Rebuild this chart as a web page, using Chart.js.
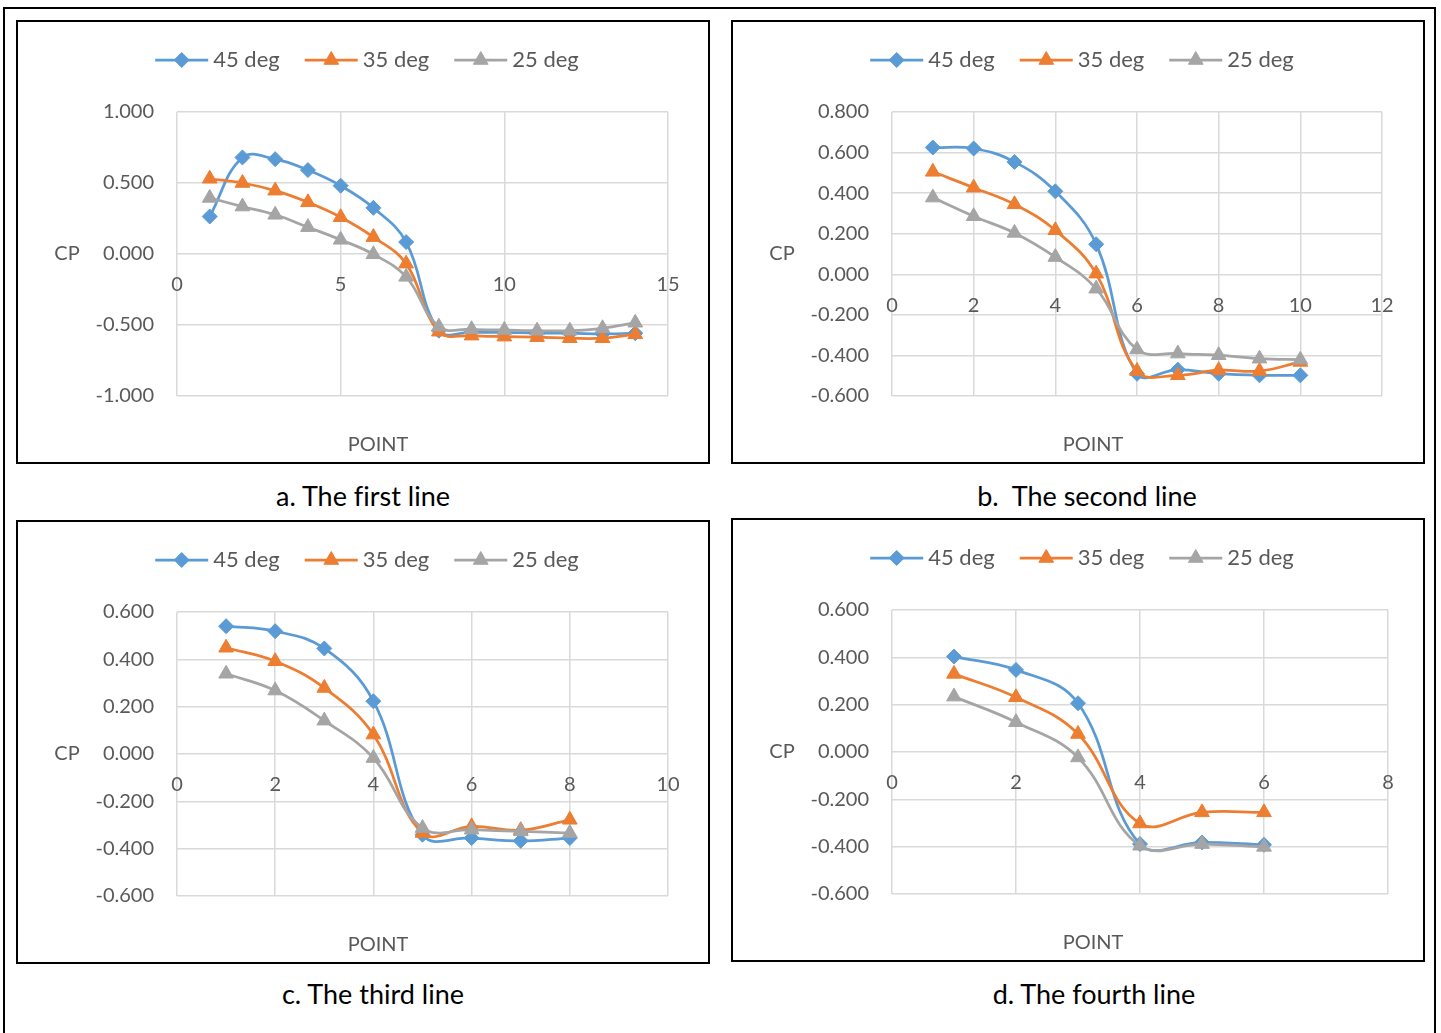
<!DOCTYPE html>
<html lang="en">
<head>
<meta charset="UTF-8">
<title>CP along the lines</title>
<script src="https://cdn.jsdelivr.net/npm/chart.js"></script>
<style>
  body, html {
    margin: 0;
    width: 1441px;
    height: 1033px;
    overflow: hidden;
    background: #fff;
    font-family: Lato, sans-serif;
  }
  .frame {
    position: absolute;
    left: 3px; top: 7px;
    width: 1429px; height: 1100px;
    border: 2.5px solid #000;
  }
  .panel {
    position: absolute;
    width: 690px; height: 440px;
    border: 2px solid #000;
    background: #fff;
  }
  .panel canvas { display: block; }
  .caption {
    position: absolute;
    width: 500px;
    height: 32px;
    line-height: 32px;
    text-align: center;
    font-size: 27px;
    color: #000;
    white-space: pre;
    font-variant-ligatures: none;
  }
</style>
</head>
<body>
  <div class="frame"></div>

  <div class="panel" style="left:16px; top:20px;"><canvas id="lineA" width="690" height="440"></canvas></div>
  <div class="panel" style="left:731px; top:20px;"><canvas id="lineB" width="690" height="440"></canvas></div>
  <div class="panel" style="left:16px; top:520px;"><canvas id="lineC" width="690" height="440"></canvas></div>
  <div class="panel" style="left:731px; top:518px;"><canvas id="lineD" width="690" height="440"></canvas></div>

  <div class="caption" style="left:113px; top:480px;">a. The first line</div>
  <div class="caption" style="left:837px; top:480px;">b.  The second line</div>
  <div class="caption" style="left:123px; top:978px;">c. The third line</div>
  <div class="caption" style="left:844px; top:978px;">d. The fourth line</div>

<script>
  const seriesNames = ['45 deg', '35 deg', '25 deg'];
  const seriesColors = ['#5b9bd5', '#ed7d31', '#a5a5a5'];
  const markerStyles = ['rectRot', 'triangle', 'triangle'];
  const markerSizes = [7.5, 8.5, 8.5];

  // first line
  const pointsA = [1, 2, 3, 4, 5, 6, 7, 8, 9, 10, 11, 12, 13, 14];
  const cpA45 = [0.264, 0.680, 0.668, 0.591, 0.481, 0.325, 0.084, -0.540, -0.550, -0.552, -0.557, -0.558, -0.562, -0.558];
  const cpA35 = [0.530, 0.500, 0.446, 0.364, 0.259, 0.119, -0.068, -0.547, -0.575, -0.582, -0.586, -0.593, -0.593, -0.565];
  const cpA25 = [0.395, 0.334, 0.276, 0.189, 0.100, -0.002, -0.161, -0.512, -0.530, -0.535, -0.540, -0.540, -0.523, -0.484];

  // second line
  const pointsB = [1, 2, 3, 4, 5, 6, 7, 8, 9, 10];
  const cpB45 = [0.625, 0.620, 0.554, 0.409, 0.148, -0.490, -0.470, -0.490, -0.498, -0.498];
  const cpB35 = [0.505, 0.427, 0.345, 0.217, 0.003, -0.477, -0.498, -0.473, -0.477, -0.432];
  const cpB25 = [0.378, 0.286, 0.204, 0.085, -0.071, -0.371, -0.391, -0.399, -0.416, -0.421];

  // third line
  const pointsC = [1, 2, 3, 4, 5, 6, 7, 8];
  const cpC45 = [0.540, 0.519, 0.446, 0.223, -0.341, -0.355, -0.367, -0.355];
  const cpC35 = [0.449, 0.392, 0.279, 0.082, -0.334, -0.306, -0.322, -0.278];
  const cpC25 = [0.339, 0.268, 0.141, -0.017, -0.313, -0.320, -0.327, -0.334];

  // fourth line
  const pointsD = [1, 2, 3, 4, 5, 6];
  const cpD45 = [0.403, 0.347, 0.206, -0.389, -0.382, -0.392];
  const cpD35 = [0.330, 0.231, 0.076, -0.302, -0.255, -0.255];
  const cpD25 = [0.234, 0.126, -0.023, -0.396, -0.389, -0.401];

  const textGrey = '#595959';
  const gridGrey = '#d9d9d9';

  // legend (line + marker + name), "CP" and "POINT" drawn onto each panel
  const panelText = {
    id: 'panelText',
    afterDraw(chart) {
      const { ctx, chartArea } = chart;
      ctx.save();
      ctx.fillStyle = textGrey;
      ctx.font = '20px Lato';
      ctx.textAlign = 'center';
      ctx.textBaseline = 'middle';
      ctx.fillText('CP', 49, (chartArea.top + chartArea.bottom) / 2);
      ctx.fillText('POINT', 360, 423);

      ctx.font = '22px Lato';
      const sets = chart.data.datasets;
      const lineLen = 53, gap = 5, spacing = 25, legendY = 38;
      const widths = sets.map(d => lineLen + gap + ctx.measureText(d.label).width);
      const total = widths.reduce((a, b) => a + b, 0) + spacing * (sets.length - 1);
      let x = 349 - total / 2;
      sets.forEach((d, i) => {
        ctx.strokeStyle = d.borderColor;
        ctx.lineWidth = d.borderWidth;
        ctx.beginPath();
        ctx.moveTo(x, legendY);
        ctx.lineTo(x + lineLen, legendY);
        ctx.stroke();
        ctx.fillStyle = d.borderColor;
        ctx.lineWidth = 1;
        Chart.helpers.drawPoint(ctx, { pointStyle: d.pointStyle, radius: d.pointRadius, borderWidth: 1, rotation: 0 }, x + lineLen / 2, legendY);
        ctx.fillStyle = textGrey;
        ctx.textAlign = 'left';
        ctx.fillText(d.label, x + lineLen + gap, legendY);
        x += widths[i] + spacing;
      });
      ctx.restore();
    }
  };

  function makeChart(id, points, series, yMin, yMax, yStep, xMax, xStep, padRight) {
    new Chart(document.getElementById(id), {
      type: 'line',
      data: {
        datasets: series.map((vals, i) => ({
          label: seriesNames[i],
          data: points.map((p, k) => ({ x: p, y: vals[k] })),
          borderColor: seriesColors[i],
          backgroundColor: seriesColors[i],
          borderWidth: 2.75,
          tension: 0.4,
          pointStyle: markerStyles[i],
          pointRadius: markerSizes[i],
          pointBorderWidth: 1,
          order: series.length - i
        }))
      },
      options: {
        responsive: false,
        animation: false,
        layout: { padding: { top: 90, right: padRight, bottom: 66, left: 0 } },
        plugins: {
          legend: { display: false },
          tooltip: { enabled: false }
        },
        scales: {
          x: {
            type: 'linear',
            min: 0,
            max: xMax,
            position: { y: 0 },
            ticks: {
              stepSize: xStep,
              padding: 19,
              color: textGrey,
              font: { family: 'Lato', size: 20 },
              autoSkip: false,
              maxRotation: 0
            },
            grid: { color: gridGrey, lineWidth: 1.5, drawTicks: false },
            border: { display: false }
          },
          y: {
            min: yMin,
            max: yMax,
            ticks: {
              stepSize: yStep,
              padding: 23,
              color: textGrey,
              font: { family: 'Lato', size: 20 },
              callback: v => (Math.round(v * 1000) / 1000).toFixed(3)
            },
            grid: { color: gridGrey, lineWidth: 1.5, drawTicks: false },
            border: { display: false },
            afterFit: s => { s.width = 159; }
          }
        }
      },
      plugins: [panelText]
    });
  }

  makeChart('lineA', pointsA, [cpA45, cpA35, cpA25], -1, 1, 0.5, 15, 5, 40);
  makeChart('lineB', pointsB, [cpB45, cpB35, cpB25], -0.6, 0.8, 0.2, 12, 2, 41);
  makeChart('lineC', pointsC, [cpC45, cpC35, cpC25], -0.6, 0.6, 0.2, 10, 2, 40);
  makeChart('lineD', pointsD, [cpD45, cpD35, cpD25], -0.6, 0.6, 0.2, 8, 2, 35);
</script>
</body>
</html>
